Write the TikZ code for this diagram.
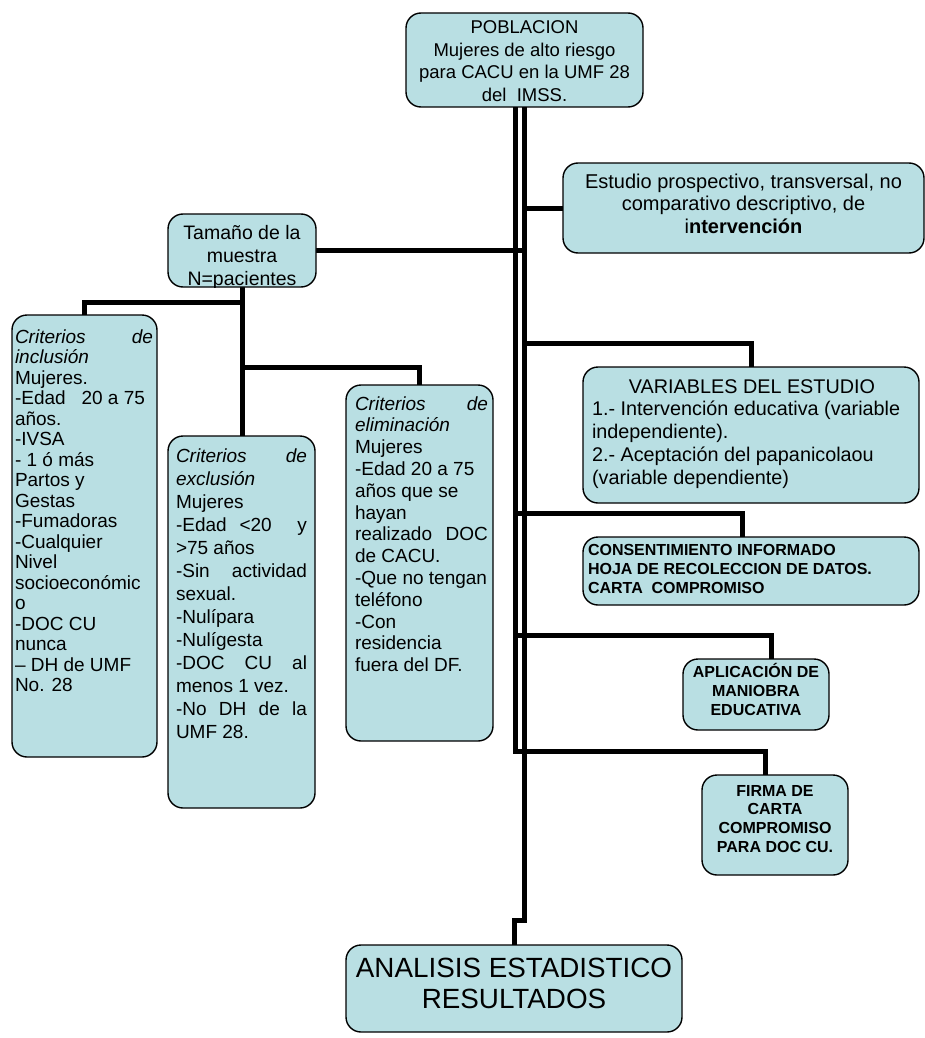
\documentclass[tikz,border=0pt]{standalone}
\usepackage{fontspec}
\setmainfont{Liberation Sans}
\usetikzlibrary{calc}
\pgfdeclarelayer{bg}
\pgfsetlayers{bg,main}
\definecolor{boxfill}{RGB}{185,223,227}
\newcommand{\myfs}[2]{\fontsize{#1pt}{#2pt}\selectfont}
\begin{document}
\begin{tikzpicture}[x=1pt,y=-1pt,
  box/.style={draw=black, line width=1.4pt, fill=boxfill, rounded corners=15pt, inner sep=0pt, outer sep=0pt},
  txt/.style={inner sep=0pt, outer sep=0pt, anchor=base west},
  conn/.style={line width=5pt, draw=black, line join=miter}]
\useasboundingbox (0,0) rectangle (925,1038);

% boxes
\node[box, minimum width=237pt, minimum height=94pt] (pob) at (524.5,60) {};
\node[box, minimum width=361pt, minimum height=90pt] (est) at (743.5,208) {};
\node[box, minimum width=148pt, minimum height=73pt] (tam) at (242,250.5) {};
\node[box, minimum width=145pt, minimum height=442pt] (inc) at (84.5,536) {};
\node[box, minimum width=147pt, minimum height=372pt] (exc) at (241.5,622) {};
\node[box, minimum width=147pt, minimum height=356pt] (eli) at (419.5,563) {};
\node[box, minimum width=336pt, minimum height=136pt] (var) at (751,435) {};
\node[box, minimum width=336pt, minimum height=68pt] (cons) at (751,571) {};
\node[box, minimum width=146pt, minimum height=71pt] (apl) at (756,694.5) {};
\node[box, minimum width=146pt, minimum height=100pt] (fir) at (775,825) {};
\node[box, minimum width=336pt, minimum height=87pt] (ana) at (514,988.5) {};

% connectors
\coordinate (L) at (515,0);
\coordinate (R) at (524,0);
\coordinate (fj) at (765,751);
\coordinate (aj) at (0,920);
\coordinate (vj) at (0,343);
\coordinate (cj) at (742,513);
\coordinate (pj) at (771,635);
\coordinate (ij) at (0,302);
\coordinate (ej) at (0,367);
\begin{pgfonlayer}{bg}
\draw[conn] (pob.south -| L) |- (fj) -- (fj |- fir.north);
\draw[conn] (pob.south -| R) -- (R |- aj) -| (ana.north);
\draw[conn] (est.west -| R) -- (est.west);
\draw[conn] (tam.east) -- (tam.east -| R);
\draw[conn] (vj -| R) -| (var.north);
\draw[conn] (cj -| L) -- (cj) -- (cj |- cons.north);
\draw[conn] (pj -| L) -- (pj) -- (pj |- apl.north);
\draw[conn] (tam.south) -- (tam.south |- exc.north);
\draw[conn] (tam.south |- ij) -| (inc.north);
\draw[conn] (tam.south |- ej) -| (eli.north);
\end{pgfonlayer}

% texts
\node[txt] (pobT) at (406,33.5) {\parbox[t]{237pt}{\centering\myfs{18.5}{22.7}POBLACION\\Mujeres de alto riesgo\\para CACU en la UMF 28\\del\ \ IMSS.}};
\node[txt] (estT) at (563,188) {\parbox[t]{361pt}{\centering\myfs{20}{22.5}Estudio prospectivo, transversal, no\\comparativo descriptivo, de\\i\textbf{ntervención}}};
\begin{scope}
\clip (tam.south west) rectangle (tam.north east);
\node[txt] (tamT) at (168,239.5) {\parbox[t]{148pt}{\centering\myfs{19.5}{23}Tamaño de la\\muestra\\N=pacientes}};
\end{scope}
\node[txt] (incT) at (15,343) {\parbox[t]{138pt}{\raggedright\myfs{19}{20.5}\textit{Criterios}\hfill\textit{de}\\
\textit{inclusión}\\
Mujeres.\\
-Edad\ \ \ 20 a 75\\
años.\\
-IVSA\\
- 1 ó más\\
Partos y\\
Gestas\\
-Fumadoras\\
-Cualquier\\
Nivel\\
socioeconómic\\
o\\
-DOC CU\\
nunca\\
– DH de UMF\\
No. 28}};
\node[txt] (excT) at (176,462) {\parbox[t]{131pt}{\raggedright\myfs{19}{23}\textit{Criterios}\hfill\textit{de}\\
\textit{exclusión}\\
Mujeres\\
-Edad\hfill<20\hfill\hfill y\\
>75 años\\
-Sin\hfill actividad\\
sexual.\\
-Nulípara\\
-Nulígesta\\
-DOC\hfill CU\hfill al\\
menos 1 vez.\\
-No\hfill DH\hfill de\hfill la\\
UMF 28.}};
\node[txt] (eliT) at (355,410) {\parbox[t]{133pt}{\raggedright\myfs{19}{21.8}\textit{Criterios}\hfill\textit{de}\\
\textit{eliminación}\\
Mujeres\\
-Edad 20 a 75\\
años que se\\
hayan\\
realizado\hfill DOC\\
de CACU.\\
-Que no tengan\\
teléfono\\
-Con\\
residencia\\
fuera del DF.}};
\node[txt] (varT) at (592,393) {\parbox[t]{320pt}{\raggedright\myfs{19.8}{22.75}\makebox[\linewidth][c]{VARIABLES DEL ESTUDIO}\\
1.- Intervención educativa (variable\\
independiente).\\
2.- Aceptación del papanicolaou\\
(variable dependiente)}};
\node[txt] (consT) at (588,555) {\parbox[t]{320pt}{\raggedright\myfs{16}{19}\bfseries CONSENTIMIENTO INFORMADO\\
HOJA DE RECOLECCION DE DATOS.\\
CARTA\ \ COMPROMISO}};
\node[txt] (aplT) at (683,677) {\parbox[t]{146pt}{\centering\myfs{16}{19}\bfseries APLICACIÓN DE\\MANIOBRA\\EDUCATIVA}};
\node[txt] (firT) at (702,796) {\parbox[t]{146pt}{\centering\myfs{16}{18.7}\bfseries FIRMA DE\\CARTA\\COMPROMISO\\PARA DOC CU.}};
\node[txt] (anaT) at (346,977) {\parbox[t]{336pt}{\centering\myfs{27.8}{31.7}ANALISIS ESTADISTICO\\RESULTADOS}};
\end{tikzpicture}
\end{document}
